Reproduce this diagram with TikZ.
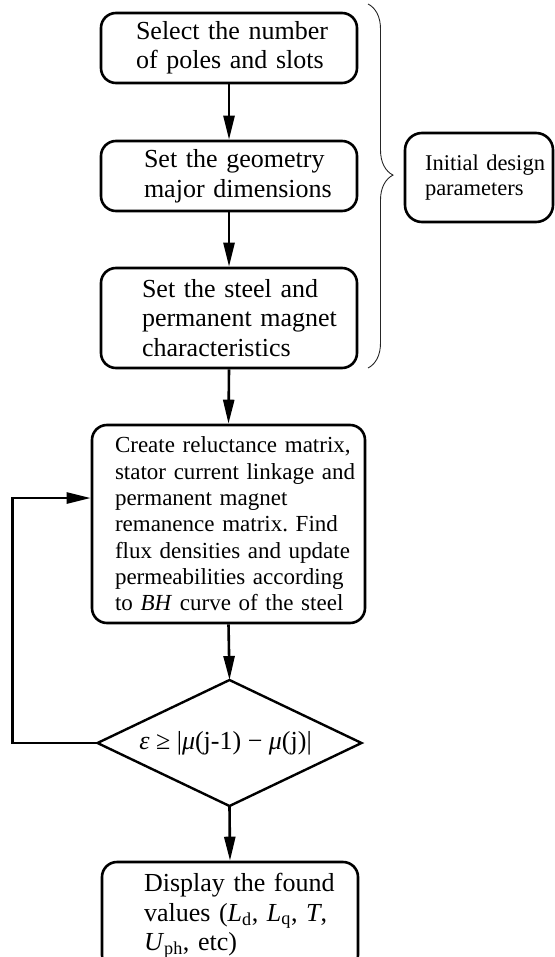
\documentclass[tikz,border=0pt]{standalone}
\usepackage{fontspec}
\setmainfont{Liberation Serif}
\frenchspacing
\usetikzlibrary{shapes.geometric,arrows.meta,decorations.pathreplacing}
\tikzset{
  box/.style={draw, rounded corners=15pt, line width=2.6pt, align=left, inner xsep=0pt, inner ysep=0pt},
  bigtxt/.style={font=\fontsize{26pt}{29.5pt}\selectfont},
  arr/.style={line width=2.6pt, -{Triangle[length=24pt,width=11pt]}},
  dec/.style={draw, diamond, aspect=2.095, line width=2.4pt, minimum width=264pt, minimum height=126pt, inner sep=0pt, outer sep=0pt, font=\fontsize{26pt}{29.5pt}\selectfont},
  bracel/.style={draw=black!85, line width=0.9pt, decorate, decoration={brace, amplitude=25pt, aspect=0.47}}
}
\begin{document}
\begin{tikzpicture}[x=1pt,y=-1pt]
\useasboundingbox (0,0) rectangle (554,957);
\node[box, bigtxt, minimum width=256pt, minimum height=70pt, text width=186pt] (b1) at (229,48)
  {\mbox{Select the number}\\\mbox{of poles and slots}};
\node[box, bigtxt, minimum width=256pt, minimum height=70pt, text width=170pt] (b2) at (229,176)
  {\mbox{Set the geometry}\\\mbox{major dimensions}};
\node[box, bigtxt, minimum width=256pt, minimum height=100pt, text width=174pt] (b3) at (229,318)
  {\mbox{Set the steel and}\\\mbox{permanent magnet}\\\mbox{characteristics}};
\node[box, font=\fontsize{23pt}{26.3pt}\selectfont, minimum width=273pt, minimum height=198pt, text width=227pt] (b4) at (228.5,524)
  {\mbox{Create reluctance matrix,}\\\mbox{stator current linkage and}\\\mbox{permanent magnet}\\\mbox{remanence matrix. Find}\\\mbox{flux densities and update}\\\mbox{permeabilities according}\\\mbox{to \textit{BH} curve of the steel}};
\node[dec] (d) at (229.5,743) {\hspace*{-8pt}\textit{ε} ≥ |\textit{μ}(j-1) − \textit{μ}(j)|};
\node[box, bigtxt, minimum width=256pt, minimum height=108pt, text width=172pt] (b5) at (230,916)
  {\mbox{Display the found}\\\mbox{values (\textit{L}\textsubscript{d}, \textit{L}\textsubscript{q}, \textit{T},}\\\mbox{\textit{U}\textsubscript{ph}, etc)}};
\node[box, font=\fontsize{22.5pt}{24.5pt}\selectfont, minimum width=148pt, minimum height=89pt, text width=108pt, rounded corners=17pt] (init) at (479,177.5)
  {\mbox{Initial design}\\\mbox{parameters}};
\coordinate (bt) at (368,4);
\coordinate (bb) at (368,368);
\draw[bracel] (bt) -- (bb);
\draw[arr] (b1.south) -- (b2.north);
\draw[arr] (b2.south) -- (b3.north);
\draw[arr] (b3.south) -- (b4.north);
\draw[arr] (b4.south) -- (d.north);
\draw[arr] (d.south) -- (b5.north);
\draw[arr] (d.west) -- ++(-85,0) |- ([yshift=26pt]b4.west);
\end{tikzpicture}
\end{document}
